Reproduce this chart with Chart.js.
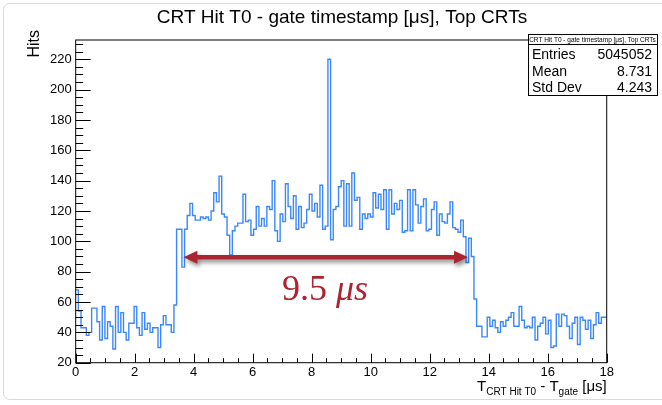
<!DOCTYPE html>
<html>
<head>
<meta charset="utf-8">
<title>CRT Hit T0 - gate timestamp</title>
<script src="https://cdn.jsdelivr.net/npm/chart.js@4.4.1/dist/chart.umd.min.js"></script>
<style>
  html, body { margin: 0; padding: 0; background: #fff; }
  #wrap { width: 662px; height: 405px; }
</style>
</head>
<body>
<div id="wrap"><canvas id="hist" width="662" height="405"></canvas></div>
<script>
// histogram definition: 200 bins from 0 to 18 us
const xMin = 0, xMax = 18, nBins = 200;

// bin contents, left to right
const hits = [
  68, 54, 43, 43, 38, 40, 56, 56, 47, 35, 57, 36, 47, 44, 29, 57, 40, 53, 40, 35,
  46, 46, 57, 43, 38, 53, 42, 46, 40, 43, 43, 30, 45, 51, 45, 45, 40, 58,
  108, 108, 83, 108, 117, 125, 117, 114, 114, 116, 115, 116, 114, 120, 132, 126, 143, 118, 116, 104,
  91, 107, 110, 112, 112, 131, 113, 114, 104, 108, 123, 110, 115, 110, 123, 121, 140, 107, 100, 118,
  113, 138, 123, 115, 130, 108, 123, 109, 112, 121, 131, 120, 125, 116, 137, 108, 110, 220, 101, 121,
  123, 136, 140, 110, 138, 110, 145, 127, 129, 108, 118, 115, 118, 116, 132, 122, 131, 121, 134, 108,
  134, 118, 125, 121, 127, 106, 107, 134, 107, 134, 124, 112, 123, 128, 107, 108, 121, 126, 104, 118,
  113, 112, 118, 126, 109, 108, 106, 114, 103, 86, 102, 90, 62, 44, 44, 37, 37, 50, 44, 48,
  43, 40, 47, 44, 48, 50, 53, 44, 44, 57, 48, 43, 44, 43, 50, 35, 44, 46, 50, 39,
  48, 30, 31, 52, 44, 52, 51, 44, 36, 46, 50, 32, 50, 48, 42, 48, 36, 45, 53, 46, 50, 50
];

const xTickLabels = [0, 2, 4, 6, 8, 10, 12, 14, 16, 18];
const yTickLabels = [20, 40, 60, 80, 100, 120, 140, 160, 180, 200, 220];

const statRows = [
  ['Entries', '5045052'],
  ['Mean', '8.731'],
  ['Std Dev', '4.243']
];

// gate width marker
const gateStart = 3.65, gateEnd = 13.3, gateLevel = 89.5;
const gateLabel = '9.5';
const gateUnit = 'μs';

const histTitle = 'CRT Hit T0 - gate timestamp [μs], Top CRTs';

const binWidth = (xMax - xMin) / nBins;
const points = hits.map((v, i) => ({ x: xMin + i * binWidth, y: v }));
points.push({ x: xMax, y: hits[hits.length - 1] });

const SANS = '"Liberation Sans", Arial, Helvetica, sans-serif';
const RED = '#ab2530';

const rootPad = {
  id: 'rootPad',
  beforeDraw(chart) {
    // light window edge around the canvas
    const ctx = chart.ctx;
    ctx.save();
    ctx.strokeStyle = '#dadada';
    ctx.lineWidth = 1;
    ctx.beginPath();
    ctx.roundRect(3.5, 3.5, 670, 396, 6);
    ctx.stroke();
    ctx.restore();
  },
  afterDraw(chart) {
    const { ctx, chartArea: a, scales: { x, y } } = chart;
    ctx.save();

    // frame
    ctx.strokeStyle = '#000';
    ctx.lineWidth = 1;
    ctx.strokeRect(a.left, a.top, a.right - a.left, a.bottom - a.top);

    // ticks drawn inward, ROOT style
    ctx.beginPath();
    for (let v = 20; v <= y.max; v += 5) {
      const py = Math.round(y.getPixelForValue(v)) + 0.5;
      const len = v % 20 === 0 ? 15 : 7.5;
      ctx.moveTo(a.left, py);
      ctx.lineTo(a.left + len, py);
    }
    for (let v = xMin; v <= xMax + 1e-9; v += 0.5) {
      const px = Math.round(x.getPixelForValue(v)) + 0.5;
      const len = v % 2 === 0 ? 9 : 4.5;
      ctx.moveTo(px, a.bottom);
      ctx.lineTo(px, a.bottom - len);
    }
    ctx.stroke();

    // double arrow with soft shadow
    const ax1 = x.getPixelForValue(gateStart);
    const ax2 = x.getPixelForValue(gateEnd);
    const ay = y.getPixelForValue(gateLevel);
    const hl = 14, hw = 6.5, t = 2.3;
    ctx.save();
    ctx.shadowColor = 'rgba(0,0,0,0.45)';
    ctx.shadowBlur = 4;
    ctx.shadowOffsetX = 2;
    ctx.shadowOffsetY = 3;
    ctx.fillStyle = RED;
    ctx.beginPath();
    ctx.moveTo(ax1, ay);
    ctx.lineTo(ax1 + hl, ay - hw);
    ctx.lineTo(ax1 + hl, ay - t);
    ctx.lineTo(ax2 - hl, ay - t);
    ctx.lineTo(ax2 - hl, ay - hw);
    ctx.lineTo(ax2, ay);
    ctx.lineTo(ax2 - hl, ay + hw);
    ctx.lineTo(ax2 - hl, ay + t);
    ctx.lineTo(ax1 + hl, ay + t);
    ctx.lineTo(ax1 + hl, ay + hw);
    ctx.closePath();
    ctx.fill();
    ctx.restore();

    // "9.5 μs"
    ctx.fillStyle = RED;
    ctx.textBaseline = 'alphabetic';
    ctx.textAlign = 'left';
    const upFont = '36px "Liberation Serif", "DejaVu Serif", serif';
    const itFont = 'italic 36px "Liberation Serif", "DejaVu Serif", serif';
    ctx.font = upFont;
    const w1 = ctx.measureText(gateLabel + ' ').width;
    ctx.font = itFont;
    const w2 = ctx.measureText(gateUnit).width;
    const tx = 325 - (w1 + w2) / 2;
    const ty = 300;
    ctx.font = upFont;
    ctx.fillText(gateLabel + ' ', tx, ty);
    ctx.font = itFont;
    ctx.fillText(gateUnit, tx + w1, ty);

    // title
    ctx.fillStyle = '#000';
    ctx.font = '19px ' + SANS;
    ctx.textAlign = 'center';
    ctx.textBaseline = 'middle';
    ctx.fillText(histTitle, 342, 18);

    // y axis title
    ctx.save();
    ctx.translate(39, 30);
    ctx.rotate(-Math.PI / 2);
    ctx.font = '16px ' + SANS;
    ctx.textAlign = 'right';
    ctx.textBaseline = 'alphabetic';
    ctx.fillText('Hits', 0, 0);
    ctx.restore();

    // x axis title: T_{CRT Hit T0} - T_{gate} [μs], right aligned to the frame
    const parts = [
      ['T', 15, 0], ['CRT Hit T0', 10, 4], [' - T', 15, 0], ['gate', 10, 4], [' [μs]', 15, 0]
    ];
    let total = 0;
    parts.forEach(p => { ctx.font = p[1] + 'px ' + SANS; total += ctx.measureText(p[0]).width; });
    let cx = a.right - total;
    const base = 391;
    ctx.textAlign = 'left';
    ctx.textBaseline = 'alphabetic';
    parts.forEach(p => {
      ctx.font = p[1] + 'px ' + SANS;
      ctx.fillText(p[0], cx, base + p[2]);
      cx += ctx.measureText(p[0]).width;
    });

    // statistics box
    const bx = 528, by = 34, bw = 129, bh = 61;
    ctx.fillStyle = '#fff';
    ctx.fillRect(bx, by, bw, bh);
    ctx.strokeStyle = '#000';
    ctx.lineWidth = 1;
    ctx.strokeRect(bx + 0.5, by + 0.5, bw, bh);
    ctx.beginPath();
    ctx.moveTo(bx, by + 10.5);
    ctx.lineTo(bx + bw, by + 10.5);
    ctx.stroke();
    ctx.fillStyle = '#000';
    ctx.font = '6.5px ' + SANS;
    ctx.textAlign = 'center';
    ctx.textBaseline = 'middle';
    ctx.fillText(histTitle, bx + bw / 2, by + 6);
    ctx.font = '14px ' + SANS;
    ctx.textBaseline = 'alphabetic';
    statRows.forEach((r, i) => {
      const ry = by + 25 + i * 16.7;
      ctx.textAlign = 'left';
      ctx.fillText(r[0], bx + 4, ry);
      ctx.textAlign = 'right';
      ctx.fillText(r[1], bx + bw - 5, ry);
    });

    ctx.restore();
  }
};

new Chart(document.getElementById('hist'), {
  type: 'line',
  data: {
    datasets: [{
      data: points,
      stepped: true,
      borderColor: '#3b88f8',
      borderWidth: 1.4,
      pointRadius: 0,
      fill: false
    }]
  },
  options: {
    responsive: false,
    animation: false,
    devicePixelRatio: 1,
    layout: { padding: { left: 0, right: 55.3, top: 40, bottom: 0 } },
    plugins: { legend: { display: false }, tooltip: { enabled: false } },
    scales: {
      x: {
        type: 'linear',
        min: xMin,
        max: xMax,
        afterBuildTicks: s => { s.ticks = xTickLabels.map(v => ({ value: v })); },
        afterFit: s => { s.height = 42.3; },
        grid: { display: false, drawTicks: false },
        border: { display: false },
        ticks: { color: '#000', font: { family: SANS, size: 13 }, padding: 2, maxRotation: 0, autoSkip: false }
      },
      y: {
        type: 'linear',
        min: 20,
        max: 232.7,
        afterBuildTicks: s => { s.ticks = yTickLabels.map(v => ({ value: v })); },
        afterFit: s => { s.width = 75.7; },
        grid: { display: false, drawTicks: false },
        border: { display: false },
        ticks: { color: '#000', font: { family: SANS, size: 13 }, padding: 4, autoSkip: false }
      }
    }
  },
  plugins: [rootPad]
});
</script>
</body>
</html>
